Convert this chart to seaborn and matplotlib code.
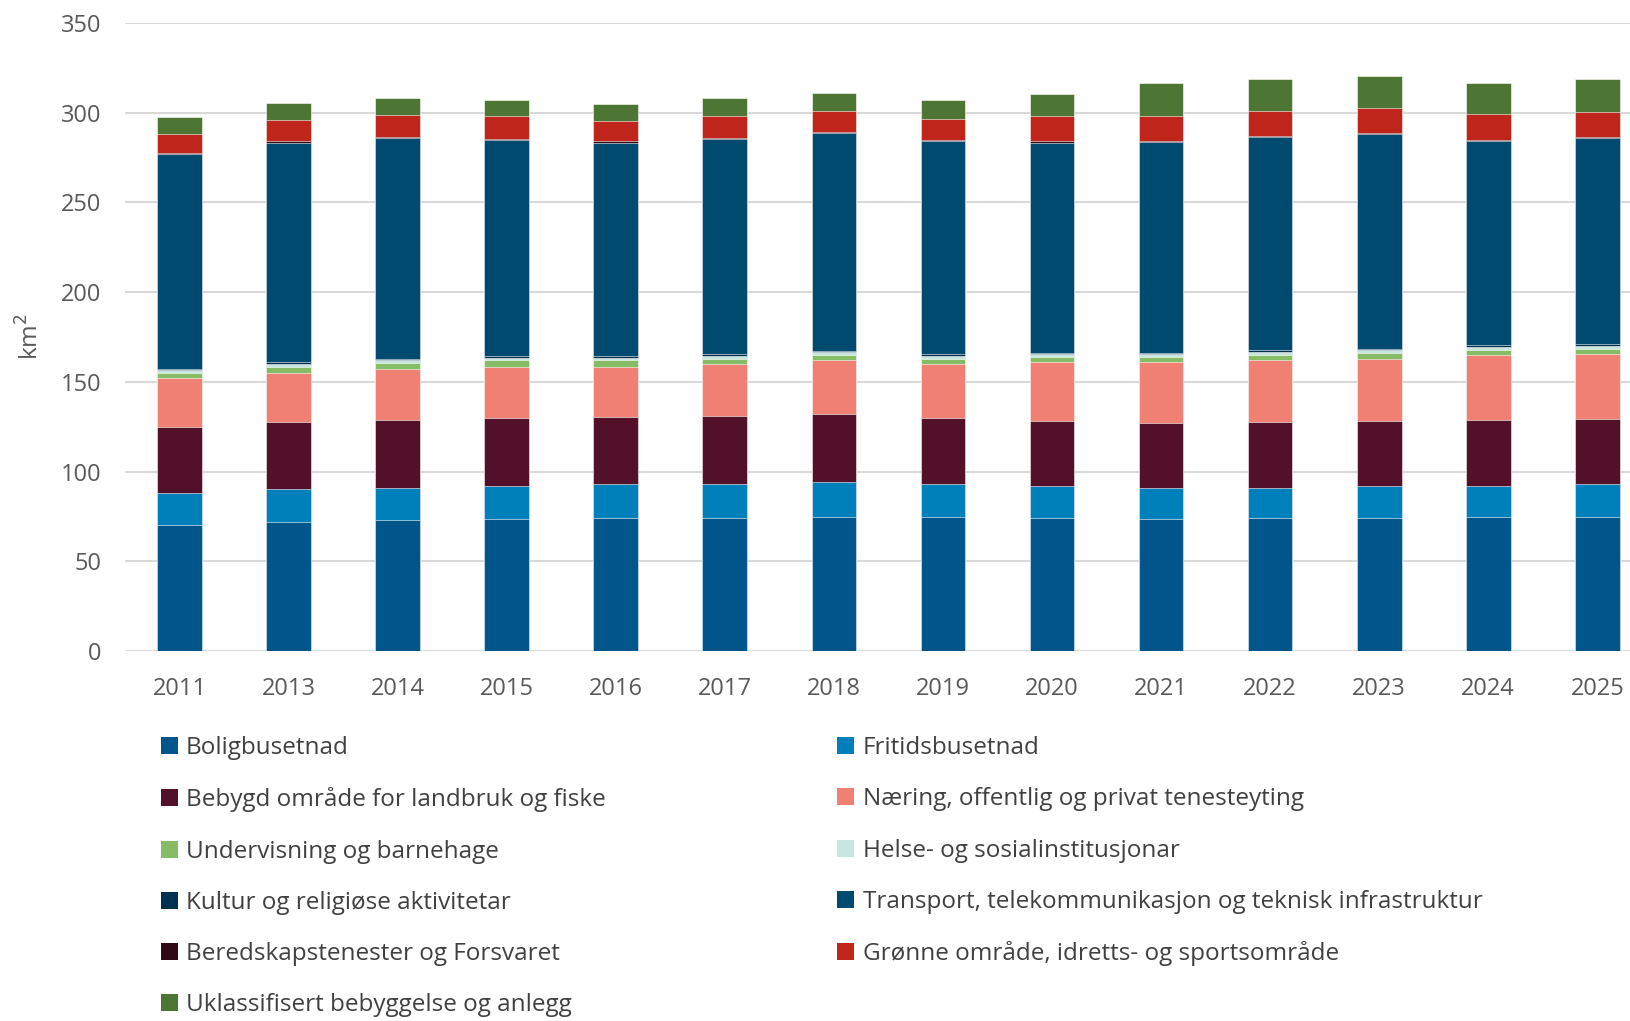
import numpy as np
import pandas as pd
import matplotlib
matplotlib.use("Agg")
import matplotlib.pyplot as plt
from matplotlib.patches import Patch
import seaborn as sns

years = ["2011", "2013", "2014", "2015", "2016", "2017", "2018",
         "2019", "2020", "2021", "2022", "2023", "2024", "2025"]

categories = [
    "Boligbusetnad",
    "Fritidsbusetnad",
    "Bebygd område for landbruk og fiske",
    "Næring, offentlig og privat tenesteyting",
    "Undervisning og barnehage",
    "Helse- og sosialinstitusjonar",
    "Kultur og religiøse aktivitetar",
    "Transport, telekommunikasjon og teknisk infrastruktur",
    "Beredskapstenester og Forsvaret",
    "Grønne område, idretts- og sportsområde",
    "Uklassifisert bebyggelse og anlegg",
]

colors = ["#00568a", "#0080bb", "#521129", "#f08074", "#86bc65", "#c8e6df",
          "#003050", "#004a70", "#2d0a16", "#c0251c", "#4d7634"]

# km2 per category and year
bolig = [70, 72, 73, 73.5, 74, 74, 74.5, 74.5, 74, 73.5, 74, 74, 74.5, 74.5]
fritid = [18, 18, 18, 18.5, 19, 19, 19.5, 18.5, 18, 17.5, 17, 18, 17.5, 18.5]
landbruk = [37, 37.5, 38, 38, 37.5, 38, 38, 37, 36, 36, 36.5, 36, 37, 36.5]
naering = [27, 27.5, 28, 28.5, 28, 29, 30, 30, 33, 34, 34.5, 35, 36, 36]
undervisning = [3, 3.5, 3.5, 3.5, 3.5, 3, 3, 3, 3, 3, 3, 3, 3, 3]
helse = [1.5, 1.5, 1.5, 1.5, 1.5, 1.5, 1.5, 1.5, 1.5, 1.5, 1.5, 1.5, 1.5, 1.5]
kultur = [0.8, 0.8, 0.8, 0.8, 0.8, 0.8, 0.8, 0.8, 0.8, 0.8, 1.0, 1.0, 1.2, 1.2]
transport = [119.5, 122.5, 123, 120.5, 119, 120, 121.5, 119, 117, 117.5,
             118.8, 119.5, 113.6, 114.6]
beredskap = [0.7] * 14
gronne = [10.5, 12, 12, 12.5, 11.5, 12, 11.5, 11.5, 14, 13.5, 14, 13.8, 14, 14]
uklass = [9.5, 9.5, 9.5, 9, 9.5, 10, 10, 10.5, 12.5, 18.5, 18, 18, 17.5, 18.5]

series = [bolig, fritid, landbruk, naering, undervisning, helse, kultur,
          transport, beredskap, gronne, uklass]

df = pd.DataFrame(np.array(series).T, columns=categories)
df["year"] = years
cum = df[categories].cumsum(axis=1)

plt.rcParams["font.family"] = ["Open Sans", "DejaVu Sans"]
grey = "#595959"

fig = plt.figure(figsize=(16.3, 10.21), dpi=100)
ax = fig.add_axes([0.0767, 0.3624, 0.9233, 0.6151])

# draw cumulative totals from top layer down so lower layers cover the upper ones
for cat, col in zip(categories[::-1], colors[::-1]):
    sns.barplot(x=df["year"], y=cum[cat], color=col, saturation=1, width=0.41,
                edgecolor="white", linewidth=0.4, ax=ax, zorder=3)

ax.set_ylim(0, 350)
ax.set_xlim(-0.5, 13.3)
ax.set_yticks(range(0, 351, 50))
ax.yaxis.grid(True, color="#d9d9d9", linewidth=1.5, zorder=0)
ax.set_axisbelow(True)
for s in ax.spines.values():
    s.set_visible(False)
ax.tick_params(axis="both", length=0, labelsize=17, labelcolor=grey)
ax.tick_params(axis="y", pad=17)
ax.tick_params(axis="x", pad=19)
ax.set_xlabel("")
ax.set_ylabel("km$^2$", fontsize=17.5, color=grey, labelpad=12)

handles = [Patch(facecolor=c, edgecolor="none") for c in colors]
left_idx = [0, 2, 4, 6, 8, 10]
right_idx = [1, 3, 5, 7, 9]
common = dict(frameon=False, fontsize=17.5, handlelength=0.7, handleheight=0.7,
              handletextpad=0.35, labelspacing=1.12, labelcolor="#404040",
              loc="upper left", borderaxespad=0, borderpad=0)
fig.legend([handles[i] for i in left_idx], [categories[i] for i in left_idx],
           bbox_to_anchor=(0.0985, 0.279), **common)
fig.legend([handles[i] for i in right_idx], [categories[i] for i in right_idx],
           bbox_to_anchor=(0.5135, 0.279), **common)

fig.savefig("out.png", dpi=100)
